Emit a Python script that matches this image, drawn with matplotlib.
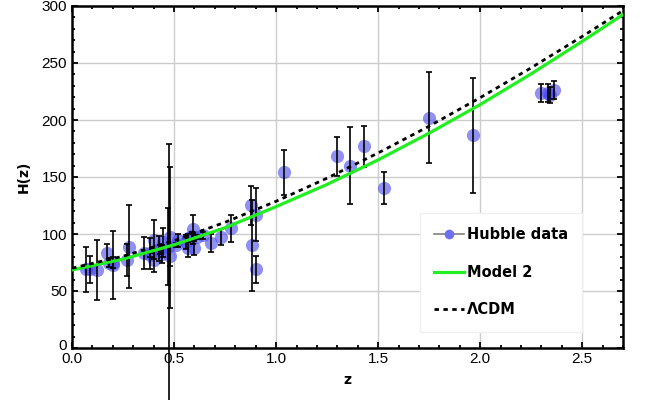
import matplotlib.pyplot as plt
import matplotlib.transforms as mtransforms
from matplotlib.lines import Line2D
from matplotlib.ticker import MultipleLocator

# observed H(z) points (z, H, sigma)
z_obs = [0.07, 0.09, 0.12, 0.17, 0.179, 0.199, 0.2, 0.27, 0.28, 0.352,
         0.38, 0.3802, 0.4, 0.4004, 0.4247, 0.43, 0.44, 0.44497, 0.47, 0.4783,
         0.48, 0.51, 0.52, 0.56, 0.57, 0.57, 0.59, 0.5929, 0.6, 0.61,
         0.64, 0.6797, 0.73, 0.7812, 0.8754, 0.88, 0.9, 0.9, 1.037, 1.3,
         1.363, 1.43, 1.53, 1.75, 1.965, 2.3, 2.33, 2.34, 2.36]
H_obs = [69, 69, 68.6, 83, 75, 75, 72.9, 77, 88.8, 83,
         81.5, 83, 95, 77, 87.1, 86.45, 82.6, 92.8, 89, 80.9,
         97, 90.4, 94.35, 93.34, 87.6, 96.8, 98.48, 104, 87.9, 97.3,
         98.82, 92, 97.3, 105, 125, 90, 117, 69, 154, 168,
         160, 177, 140, 202, 186.5, 224, 224, 222, 226]
H_sig = [19.6, 12, 26.2, 8, 4, 5, 29.6, 14, 36.6, 14,
         1.9, 13.5, 17, 10.2, 11.2, 3.7, 7.8, 12.9, 34, 9,
         62, 1.9, 5.4, 6.2, 7.8, 3.4, 3.2, 13, 6.1, 2.1,
         2.98, 8, 7, 12, 17, 40, 23, 12, 20, 17,
         33.6, 18, 14, 40, 50.4, 8, 8, 7, 8]

# one point with a very wide, lopsided error bar
z_wide = [0.475]
H_wide = [89]
H_wide_lo = [150]
H_wide_hi = [90]

# model curves
z_curve = [0.0, 0.25, 0.5, 0.75, 1.0, 1.25, 1.5, 1.75, 2.0, 2.25, 2.5, 2.7]
H_model2 = [68.5, 78, 90.5, 105.5, 124, 143.5, 165, 188.5, 213.5, 240.5, 269, 292.5]
H_lcdm = [70, 80.5, 94.1, 110.3, 128.7, 149, 171.1, 194.6, 219.6, 245.8, 273.3, 296]

x_ticks = [0.0, 0.5, 1.0, 1.5, 2.0, 2.5]
y_ticks = [0, 50, 100, 150, 200, 250, 300]

fig = plt.figure(figsize=(6.49, 4.0), dpi=100)
ax = fig.add_axes([0.111, 0.13, 0.849, 0.855])

pt_color = '#4646ec'
ax.plot(z_obs, H_obs, 'o', color=pt_color, alpha=0.6, markersize=9.5,
        markeredgewidth=0, zorder=2)
ax.errorbar(z_obs, H_obs, yerr=H_sig, fmt='none', ecolor='black',
            elinewidth=1.2, capsize=2.5, capthick=1.2, zorder=3)
ax.errorbar(z_wide, H_wide, yerr=[H_wide_lo, H_wide_hi], fmt='none',
            ecolor='black', elinewidth=1.2, capsize=2.5, capthick=1.2,
            zorder=3, clip_on=False)

ax.plot(z_curve, H_model2, color='#22ee22', lw=2.3, zorder=4)
ax.plot(z_curve, H_lcdm, color='black', lw=2.0, ls=(0, (1.6, 1.6)), zorder=5)

ax.set_xlim(0, 2.7)
ax.set_ylim(0, 300)
ax.set_xticks(x_ticks)
ax.set_xticklabels([f'{v:.1f}' for v in x_ticks], family='Liberation Sans')
ax.set_yticks(y_ticks)
ax.set_yticklabels([str(v) for v in y_ticks], family='Liberation Sans')
ax.xaxis.set_minor_locator(MultipleLocator(0.1))
ax.yaxis.set_minor_locator(MultipleLocator(10))
ax.tick_params(which='both', direction='in', top=True, right=True,
               labelsize=11, width=1.3)
ax.tick_params(which='major', length=4)
ax.tick_params(which='minor', length=2.5)
ax.tick_params(axis='x', pad=3)
ax.grid(True, which='major', color='#cccccc', lw=1.0)
ax.set_axisbelow(True)
for s in ax.spines.values():
    s.set_linewidth(1.8)

# lift the "0" on the y axis a little so it clears "0.0"
lift = mtransforms.ScaledTranslation(0, 3 / 100, fig.dpi_scale_trans)
y0_label = ax.get_yticklabels()[0]
y0_label.set_transform(y0_label.get_transform() + lift)

ax.set_xlabel('z', fontsize=10, fontweight='bold', labelpad=5)
ax.set_ylabel('H(z)', fontsize=10, fontweight='bold', labelpad=8)

handles = [
    Line2D([], [], color='gray', lw=1.2, marker='o', markersize=7,
           markerfacecolor='#6f6ff0', markeredgewidth=0),
    Line2D([], [], color='#22ee22', lw=2.3),
    Line2D([], [], color='black', lw=2.0, ls=(0, (1.6, 1.6))),
]
leg = ax.legend(handles, ['Hubble data', 'Model 2', 'ΛCDM'],
                loc='lower right', bbox_to_anchor=(0.926, 0.047),
                prop={'weight': 'bold', 'size': 10.5}, frameon=True,
                fancybox=False, framealpha=1, edgecolor='#f0f0f0',
                handlelength=2.0, handletextpad=0.2, labelspacing=1.55,
                borderpad=1.0, borderaxespad=0)
leg.set_zorder(10)

fig.savefig('out.png', dpi=100)
